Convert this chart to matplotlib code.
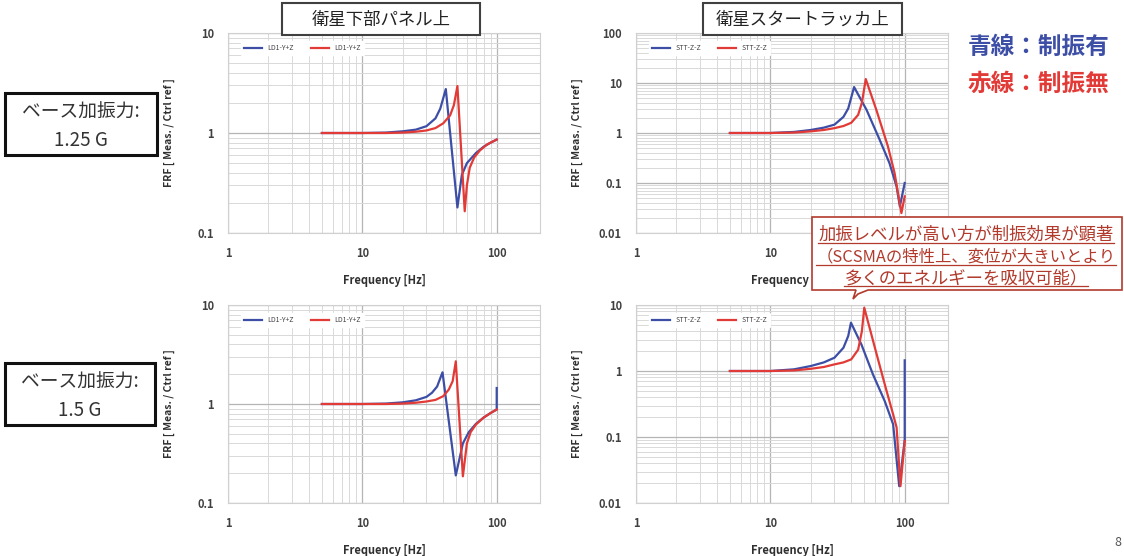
import matplotlib
matplotlib.use("Agg")
import matplotlib.pyplot as plt
from matplotlib.patches import Rectangle, Polygon
from matplotlib.lines import Line2D
from matplotlib.ticker import FixedLocator, LogLocator, FuncFormatter, NullFormatter

plt.rcParams['font.family'] = ['Noto Sans CJK JP', 'DejaVu Sans']

W, H = 1124, 556  # figure size in pixels

# ---- data ----
# top left: panel 1.25 G
tl_blue_f = [5, 10, 15, 20, 25, 30, 35, 38, 41.8, 51, 55, 60, 70, 80, 90, 100]
tl_blue_v = [1.0, 1.0, 1.01, 1.04, 1.08, 1.17, 1.4, 1.75, 2.75, 0.18, 0.38, 0.5, 0.63, 0.73, 0.8, 0.86]
tl_red_f = [5, 10, 15, 20, 25, 30, 35, 40, 45, 48, 51, 57.8, 60, 63, 68, 75, 85, 100]
tl_red_v = [1.0, 1.0, 1.0, 1.01, 1.03, 1.06, 1.12, 1.25, 1.5, 1.9, 2.95, 0.165, 0.3, 0.45, 0.57, 0.67, 0.77, 0.86]

# top right: star tracker 1.25 G
tr_blue_f = [5, 10, 15, 20, 25, 30, 35, 38, 42, 52, 65, 77, 87, 92, 100]
tr_blue_v = [1.0, 1.0, 1.05, 1.15, 1.28, 1.47, 2.1, 3.1, 8.3, 2.9, 0.74, 0.25, 0.085, 0.034, 0.1]
tr_red_f = [5, 10, 15, 20, 25, 30, 35, 40, 45, 48, 51.3, 61.5, 75, 84, 94.5, 100]
tr_red_v = [1.0, 1.0, 1.02, 1.08, 1.15, 1.25, 1.38, 1.6, 2.3, 4.0, 12, 2.9, 0.54, 0.16, 0.025, 0.054]

# bottom left: panel 1.5 G
bl_blue_f = [5, 10, 15, 20, 25, 30, 33, 36, 39.5, 49.6, 56, 62, 70, 80, 90, 100, 100]
bl_blue_v = [1.0, 1.0, 1.01, 1.04, 1.09, 1.18, 1.3, 1.5, 2.09, 0.19, 0.4, 0.52, 0.63, 0.73, 0.81, 0.88, 1.45]
bl_red_f = [5, 10, 15, 20, 25, 30, 35, 40, 44, 47, 49.6, 56, 60, 64, 70, 80, 90, 100]
bl_red_v = [1.0, 1.0, 1.0, 1.01, 1.03, 1.06, 1.1, 1.2, 1.4, 1.7, 2.7, 0.186, 0.4, 0.52, 0.62, 0.73, 0.81, 0.88]

# bottom right: star tracker 1.5 G
br_blue_f = [5, 10, 15, 20, 25, 30, 35, 38, 39.8, 47.7, 58, 71, 82, 91, 100, 100]
br_blue_v = [1.0, 1.0, 1.06, 1.19, 1.35, 1.59, 2.25, 3.4, 5.4, 2.5, 0.89, 0.35, 0.156, 0.018, 0.09, 1.45]
br_red_f = [5, 10, 15, 20, 25, 30, 35, 40, 45, 48, 50, 60, 71, 82, 87, 93, 100]
br_red_v = [1.0, 1.0, 1.02, 1.08, 1.15, 1.26, 1.35, 1.5, 2.1, 4.0, 9.1, 2.25, 0.63, 0.22, 0.14, 0.018, 0.087]

legend_ld = "LD1-Y+Z"
legend_stt = "STT-Z-Z"
titles = ["衛星下部パネル上", "衛星スタートラッカ上"]
force_labels = [["ベース加振力:", "1.25 G"], ["ベース加振力:", "1.5 G"]]
callout_lines = ["加振レベルが高い方が制振効果が顕著",
                 "（SCSMAの特性上、変位が大きいとより",
                 "多くのエネルギーを吸収可能）"]

BLUE = "#3d4ea6"
RED = "#e23a36"
DARKRED = "#b23a2c"


def fx(px):
    return px / W


def fy(py):
    return 1 - py / H


def px_rect(l, t, r, b):
    return [fx(l), fy(b), (r - l) / W, (b - t) / H]


def setup(ax, ylim, leg):
    ax.set_xscale('log')
    ax.set_yscale('log')
    ax.set_xlim(1, 210)
    ax.set_ylim(*ylim)
    ax.xaxis.set_major_locator(FixedLocator([1, 10, 100]))
    ax.xaxis.set_minor_locator(FixedLocator([2, 3, 4, 5, 6, 7, 8, 9, 20, 30, 40, 50, 60, 70, 80, 90]))
    ax.yaxis.set_minor_locator(LogLocator(base=10, subs=range(2, 10)))
    fmt = FuncFormatter(lambda v, p: "%g" % v)
    ax.xaxis.set_major_formatter(fmt)
    ax.yaxis.set_major_formatter(fmt)
    ax.xaxis.set_minor_formatter(NullFormatter())
    ax.yaxis.set_minor_formatter(NullFormatter())
    ax.grid(which='major', color='#b5b5b5', lw=0.9)
    ax.grid(which='minor', color='#d9d9d9', lw=0.7)
    ax.set_axisbelow(True)
    ax.tick_params(which='both', length=0, labelsize=8, labelcolor='#404040', pad=10)
    for lab in ax.get_xticklabels() + ax.get_yticklabels():
        lab.set_fontweight('bold')
    for s in ax.spines.values():
        s.set_color('#d0d0d0')
        s.set_linewidth(0.8)
    ax.set_xlabel('Frequency [Hz]', fontweight='bold', fontsize=8, color='#303030')
    ax.set_ylabel('FRF [ Meas. / Ctrl ref ]', fontweight='bold', fontsize=7.5, color='#303030')
    pos = ax.get_position()
    wpx = pos.width * W
    hpx = pos.height * H
    ax.yaxis.set_label_coords(-53 / wpx, 0.5)
    ax.xaxis.set_label_coords(0.5, -41 / hpx)
    lg = ax.legend([leg, leg], loc='upper left', bbox_to_anchor=(0.03, 0.975), ncol=2,
                   fontsize=5, frameon=True, framealpha=1, edgecolor='white',
                   handlelength=2.6, columnspacing=2.5, borderpad=0.4)
    for t in lg.get_texts():
        t.set_color('#404040')


fig = plt.figure(figsize=(W / 100, H / 100), dpi=100)

panels = [
    (px_rect(228, 33, 540, 233), tl_blue_f, tl_blue_v, tl_red_f, tl_red_v, (0.1, 10), legend_ld),
    (px_rect(636, 33, 948, 233), tr_blue_f, tr_blue_v, tr_red_f, tr_red_v, (0.01, 100), legend_stt),
    (px_rect(228, 305, 540, 503), bl_blue_f, bl_blue_v, bl_red_f, bl_red_v, (0.1, 10), legend_ld),
    (px_rect(636, 305, 948, 503), br_blue_f, br_blue_v, br_red_f, br_red_v, (0.01, 10), legend_stt),
]

axes = []
for rect, bf, bv, rf, rv, ylim, leg in panels:
    ax = fig.add_axes(rect)
    ax.plot(bf, bv, color=BLUE, lw=1.6)
    ax.plot(rf, rv, color=RED, lw=1.6)
    setup(ax, ylim, leg)
    axes.append(ax)

# the "100" label of the top right panel is hidden behind the callout in the original
axes[1].get_xticklabels()[2].set_visible(False)

# title boxes
for (l, t, r, b), title in zip([(282, 3, 480, 35), (703, 3, 902, 35)], titles):
    fig.add_artist(Rectangle((fx(l), fy(b)), (r - l) / W, (b - t) / H, transform=fig.transFigure,
                             facecolor='white', edgecolor='#404040', lw=1.5))
    fig.text(fx((l + r) / 2), fy((t + b) / 2 + 1), title, ha='center', va='center',
             fontsize=12.5, color='#222222')

# base excitation boxes
for (l, t, r, b), lines in zip([(5, 93, 157, 155), (5, 363, 155, 425)], force_labels):
    fig.add_artist(Rectangle((fx(l), fy(b)), (r - l) / W, (b - t) / H, transform=fig.transFigure,
                             facecolor='white', edgecolor='#111111', lw=2.2))
    fig.text(fx((l + r) / 2), fy(t + 19), lines[0], ha='center', va='center', fontsize=13.5, color='#333333')
    fig.text(fx((l + r) / 2), fy(t + 47), lines[1], ha='center', va='center', fontsize=13.5, color='#333333')

# colour key
fig.text(fx(968), fy(47), "青線：制振有", ha='left', va='center', fontsize=17,
         color=BLUE, fontweight='bold')
fig.text(fx(968), fy(84), "赤線：制振無", ha='left', va='center', fontsize=17,
         color=RED, fontweight='bold')

# callout
pts = [(812, 217), (1122, 217), (1122, 290), (868, 290), (858, 294), (853, 299), (856, 290), (812, 290)]
fig.add_artist(Polygon([(fx(x), fy(y)) for x, y in pts], closed=True, transform=fig.transFigure,
                       facecolor='white', edgecolor=DARKRED, lw=1.2))
txts = []
for y, s, fs in zip([235, 257, 278], callout_lines, [12.5, 11.8, 12.5]):
    txts.append(fig.text(fx(966), fy(y), s, ha='center', va='center', fontsize=fs, color=DARKRED))

fig.canvas.draw()
r = fig.canvas.get_renderer()
for t in txts:
    bb = t.get_window_extent(r)
    yl = bb.y0 + 1
    fig.add_artist(Line2D([bb.x0 / W, bb.x1 / W], [yl / H, yl / H], transform=fig.transFigure,
                          color=DARKRED, lw=0.9))

fig.text(fx(1118), fy(543), "8", ha='center', va='center', fontsize=9, color='#555555')

fig.savefig("out.png", dpi=100)
